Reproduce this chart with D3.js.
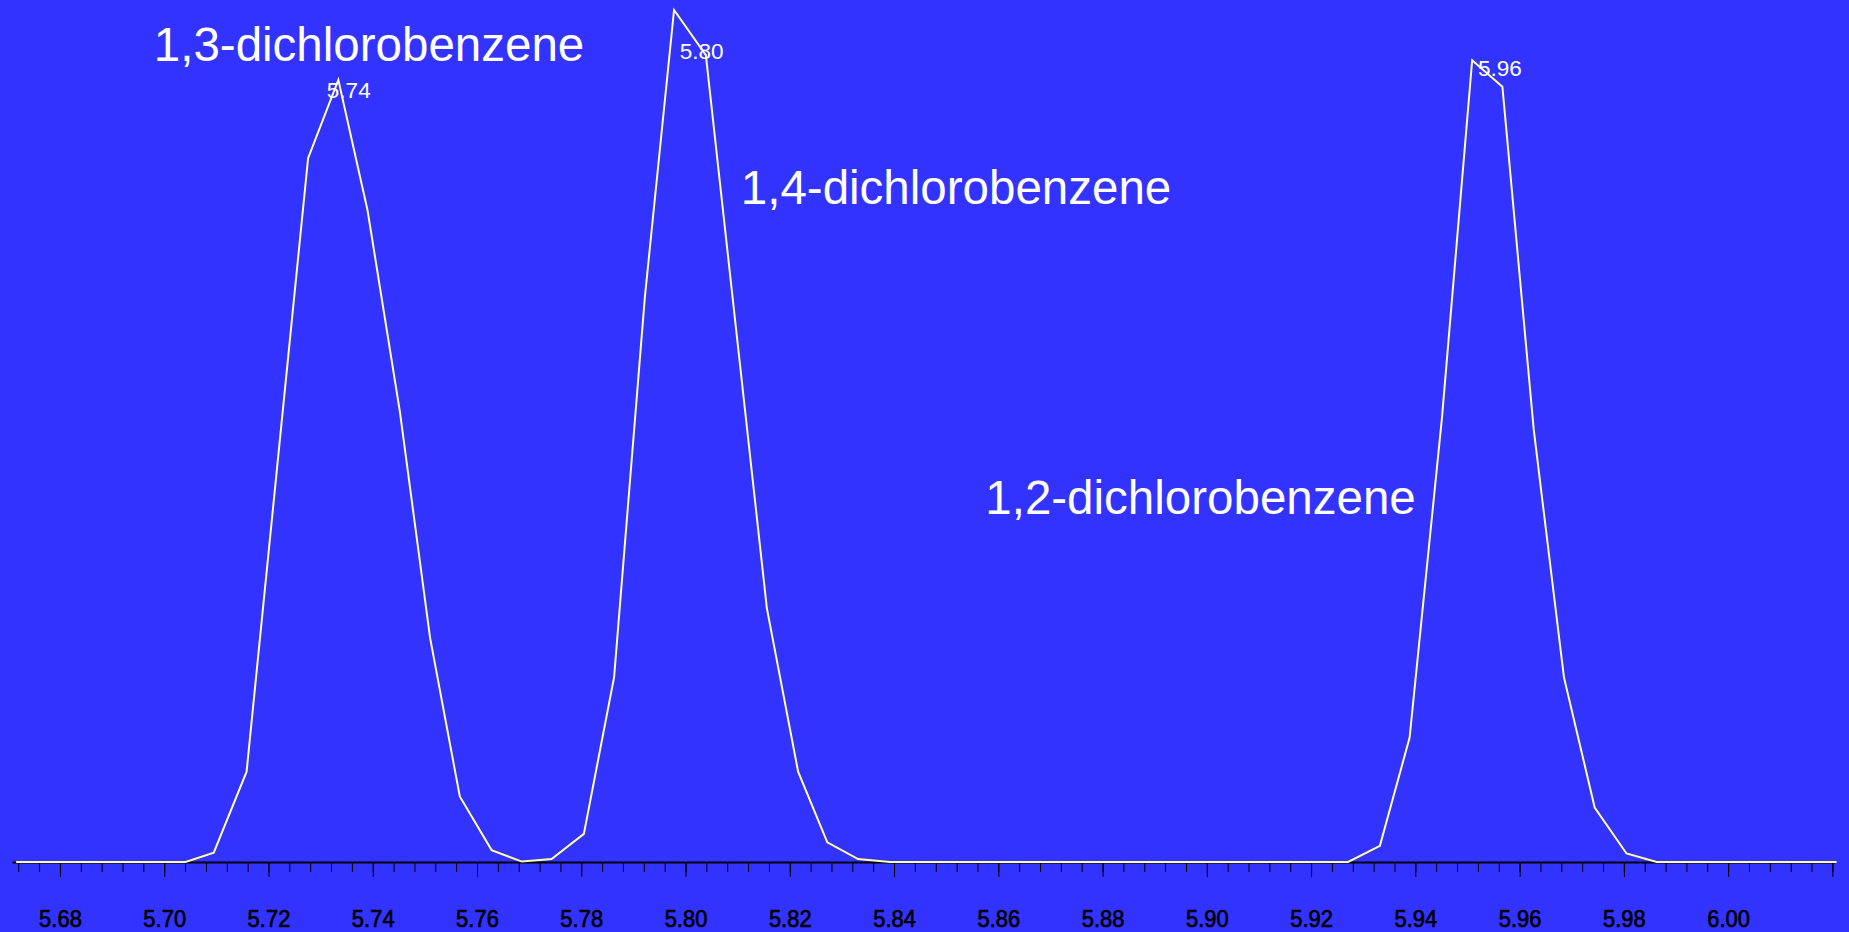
<!DOCTYPE html>
<html>
<head>
<meta charset="utf-8">
<script src="https://cdn.jsdelivr.net/npm/d3@7"></script>
<style>
  body { margin: 0; background: #3333ff; }
  svg { display: block; }
</style>
</head>
<body>
<script>
// Chromatogram trace: retention time (min) and relative intensity (%)
const retentionTime = [
  5.6716, 5.7041, 5.7095, 5.7158, 5.7276, 5.7334, 5.7390, 5.7452, 5.7510, 5.7567, 5.7628, 5.7686,
  5.7743, 5.7805, 5.7863, 5.7922, 5.7978, 5.8039, 5.8156, 5.8216, 5.8272, 5.8331, 5.8392,
  5.9271, 5.9332, 5.9389, 5.9451, 5.9509, 5.9567, 5.9627, 5.9685, 5.9744, 5.9805, 5.9863,
  6.0208
];
const intensity = [
  0, 0, 1.1, 10.6, 82.6, 91.8, 76.5, 52.9, 26.3, 7.7, 1.4, 0.05,
  0.35, 3.3, 21.7, 66.3, 100, 94.7, 29.8, 10.6, 2.3, 0.35, 0,
  0, 1.9, 14.6, 52.1, 94.1, 91.0, 50.8, 21.7, 6.4, 1.0, 0,
  0
];

// axis ticks
const tickLabels = ["5.68", "5.70", "5.72", "5.74", "5.76", "5.78", "5.80", "5.82", "5.84",
                    "5.86", "5.88", "5.90", "5.92", "5.94", "5.96", "5.98", "6.00"];
const endTick = 6.02;

// peak apex labels
const peakLabels = ["5.74", "5.80", "5.96"];
const peakLabelTime = [5.7312, 5.7989, 5.9520];
const peakLabelLevel = [89.7, 94.3, 92.3];

// compound names
const compounds = ["1,3-dichlorobenzene", "1,4-dichlorobenzene", "1,2-dichlorobenzene"];
const compoundTime = [5.6980, 5.8106, 5.8575];
const compoundLevel = [94.0, 77.2, 40.8];

const width = 1849, height = 932;
const axisY = 862;

const svg = d3.select("body").append("svg")
    .attr("width", width)
    .attr("height", height);

svg.append("rect")
    .attr("width", width)
    .attr("height", height)
    .attr("fill", "#3333ff");

const x = d3.scaleLinear()
    .domain([5.6708, 6.0205])
    .range([12, 1835]);

const y = d3.scaleLinear()
    .domain([0, 100])
    .range([axisY, 10]);

// minor ticks every 0.004 min
const minorTicks = d3.range(0, 88).map(i => +(5.672 + i * 0.004).toFixed(3));
const majorTicks = tickLabels.map(Number).concat([endTick]);

svg.append("g")
    .attr("transform", `translate(0,${axisY})`)
    .call(d3.axisBottom(x).tickValues(minorTicks).tickSize(10).tickSizeOuter(0).tickFormat(""))
    .call(g => g.select(".domain").attr("stroke", "#000").attr("stroke-width", 2))
    .call(g => g.selectAll(".tick line").attr("stroke", "#000"));

const major = svg.append("g")
    .attr("transform", `translate(0,${axisY})`)
    .call(d3.axisBottom(x).tickValues(majorTicks).tickSize(15).tickSizeOuter(0)
        .tickFormat(d => d <= 6.001 ? d3.format(".2f")(d) : ""));

major.select(".domain").remove();
major.selectAll(".tick line").attr("stroke", "#000");
major.selectAll(".tick text")
    .attr("fill", "#000")
    .attr("stroke", "#000")
    .attr("stroke-width", 0.6)
    .attr("font-family", "Liberation Sans, Arial, sans-serif")
    .attr("font-size", 22)
    .attr("dy", null)
    .attr("y", 59)
    .attr("transform", "scale(1,1.1)");

// trace
const line = d3.line()
    .x((d, i) => x(retentionTime[i]))
    .y(d => y(d));

svg.append("path")
    .datum(intensity)
    .attr("fill", "none")
    .attr("stroke", "#ffffa8")
    .attr("stroke-width", 2)
    .attr("stroke-linejoin", "miter")
    .attr("d", line);

// peak labels
svg.append("g")
    .selectAll("text")
    .data(peakLabels)
    .join("text")
    .attr("x", (d, i) => x(peakLabelTime[i]))
    .attr("y", (d, i) => y(peakLabelLevel[i]))
    .attr("fill", "#fff")
    .attr("font-family", "Liberation Sans, Arial, sans-serif")
    .attr("font-size", 22.5)
    .text(d => d);

// compound names
svg.append("g")
    .selectAll("text")
    .data(compounds)
    .join("text")
    .attr("x", (d, i) => x(compoundTime[i]))
    .attr("y", (d, i) => y(compoundLevel[i]))
    .attr("fill", "#fff")
    .attr("font-family", "Liberation Sans, Arial, sans-serif")
    .attr("font-size", 47.5)
    .text(d => d);
</script>
</body>
</html>
